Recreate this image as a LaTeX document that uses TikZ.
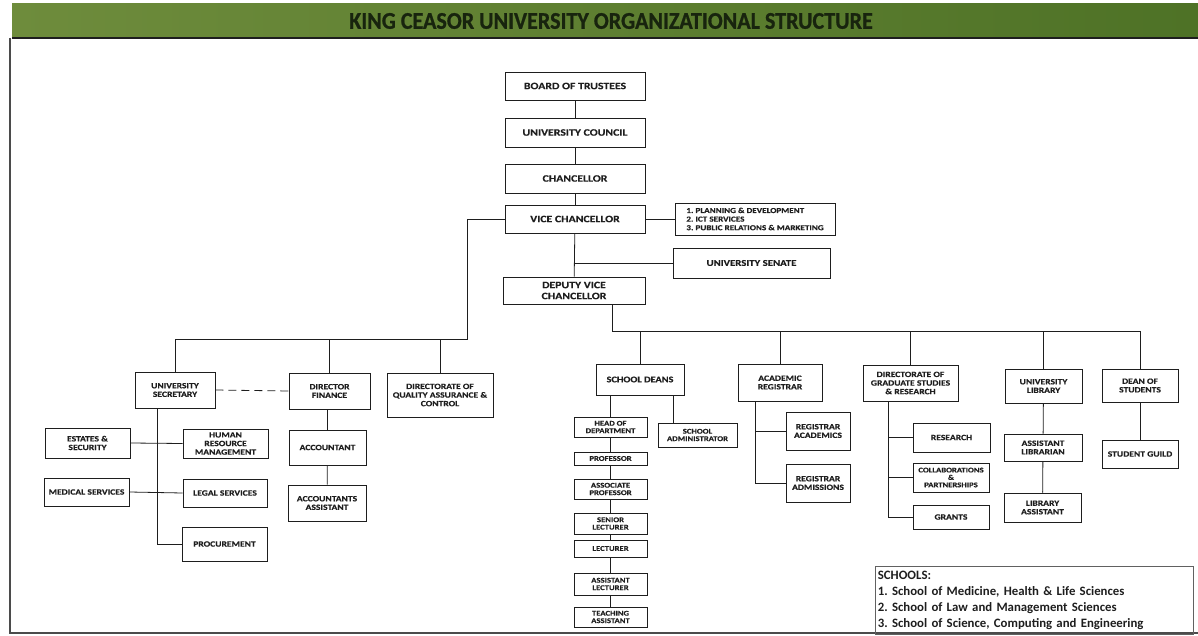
\documentclass[tikz,border=0pt]{standalone}
\usepackage{fontspec}
\setmainfont{Carlito}
\newfontfamily\bxf[FakeStretch=1.2, BoldFeatures={FakeBold=0.3}]{Carlito}
\newfontfamily\ttlf[FakeStretch=0.92, BoldFeatures={FakeBold=0.8}]{Carlito}
\newcommand\fsz[2]{\fontsize{#1}{#2}\selectfont}
\frenchspacing
\definecolor{barL}{HTML}{6E8C3C}
\definecolor{barR}{HTML}{4E7226}
\definecolor{ink}{HTML}{1E1E1E}
\definecolor{ttl}{HTML}{18240E}
\tikzset{
  box/.style={draw=ink, line width=0.9pt, inner sep=1pt, align=center, text=ink,
              font=\bxf\bfseries\fsz{8}{8.6}},
  big/.style={font=\bxf\bfseries\fsz{9.8}{11}},
  tiny/.style={font=\bxf\bfseries\fsz{7.2}{7.4}},
  sz/.style n args={2}{minimum width=#1pt, minimum height=#2pt},
  conn/.style={draw=ink, line width=0.8pt},
}
\begin{document}
\begin{tikzpicture}[x=1pt,y=-1pt]
\useasboundingbox (0,0) rectangle (1198,636);
% title bar
\shade[left color=barL, right color=barR] (12,4) rectangle (1198,38);
\draw[line width=1.2pt, ink] (12,38) -- (1198,38);
\node[text=ttl, font=\ttlf\bfseries\fsz{24}{25}] (title) at (611,21) {KING CEASOR UNIVERSITY ORGANIZATIONAL STRUCTURE};
% frame
\draw[line width=1.2pt, ink!80] (10,38) -- (10,633) -- (1198,633);

% top chain
\node[box, big, sz={140}{28}] (bot) at (575,86) {BOARD OF TRUSTEES};
\node[box, big, sz={140}{29}] (uc) at (575,132.5) {UNIVERSITY COUNCIL};
\node[box, big, sz={140}{29}] (chan) at (575,178.5) {CHANCELLOR};
\node[box, big, sz={140}{28}] (vc) at (575,219) {VICE CHANCELLOR};
\node[box, sz={160}{32}, align=left, font=\bxf\bfseries\fsz{7.6}{8.6}] (list) at (755,219) {1. PLANNING \& DEVELOPMENT\\2. ICT SERVICES\\3. PUBLIC RELATIONS \& MARKETING};
\node[box, big, sz={157}{30}, font=\bxf\bfseries\fsz{9}{10}] (senate) at (751.5,263) {UNIVERSITY SENATE};
\node[box, big, sz={142}{27}] (dvc) at (574,290.5) {DEPUTY VICE\\CHANCELLOR};

\draw[conn] (bot) -- (uc);
\draw[conn] (uc) -- (chan);
\draw[conn] (chan) -- (vc);
\draw[conn] (vc) -- (dvc);
\draw[conn] (vc.east) -- (list.west);
\coordinate (sen) at (575,263);
\draw[conn] (sen) -- (senate.west);

% left wing
\node[box, sz={80}{36}] (usec) at (175,390) {UNIVERSITY\\SECRETARY};
\node[box, sz={81}{36}] (dfin) at (329.5,391) {DIRECTOR\\FINANCE};
\node[box, sz={106}{44}] (qa) at (440,395) {DIRECTORATE OF\\QUALITY ASSURANCE \&\\CONTROL};
\node[box, sz={85}{30}] (est) at (87.5,443) {ESTATES \&\\SECURITY};
\node[box, sz={85}{29}] (hrm) at (225.5,443.5) {HUMAN\\RESOURCE\\MANAGEMENT};
\node[box, sz={85}{28}] (med) at (86.5,492) {MEDICAL SERVICES};
\node[box, sz={84}{28}] (legal) at (225,493) {LEGAL SERVICES};
\node[box, sz={85}{34}] (proc) at (224.5,544) {PROCUREMENT};
\node[box, sz={77}{35}] (acct) at (327.5,447.5) {ACCOUNTANT};
\node[box, sz={78}{36}] (accas) at (327,503) {ACCOUNTANTS\\ASSISTANT};

\coordinate (lbus) at (467,339);
\draw[conn] (vc.west) -| (lbus) -| (usec.north);
\draw[conn] (lbus) -| (dfin.north);
\draw[conn] (lbus) -| (qa.north);
\draw[conn, dashed, dash pattern=on 8pt off 5pt] (usec.east) -- (dfin.west);
\coordinate (usd) at (157,408);
\draw[conn] (usd) |- (proc.west);
\draw[conn] (est.east) -- (hrm.west);
\draw[conn] (med.east) -- (legal.west);
\draw[conn] (dfin.south -| acct.north) -- (acct.north);
\draw[conn] (acct) -- (accas);

% right wing
\node[box, sz={88}{31}, font=\bxf\bfseries\fsz{8.6}{9}] (sd) at (640,379.5) {SCHOOL DEANS};
\node[box, tiny, sz={73}{20}] (hod) at (610.5,427) {HEAD OF\\DEPARTMENT};
\node[box, tiny, sz={79}{24}] (sadm) at (697.5,435) {SCHOOL\\ADMINISTRATOR};
\node[box, tiny, sz={73}{13}] (prof) at (610.5,458.5) {PROFESSOR};
\node[box, tiny, sz={73}{20}] (aprof) at (610.5,489) {ASSOCIATE\\PROFESSOR};
\node[box, tiny, sz={73}{21}] (slect) at (610.5,523.5) {SENIOR\\LECTURER};
\node[box, tiny, sz={73}{17}] (lect) at (610.5,548.5) {LECTURER};
\node[box, tiny, sz={73}{22}] (alect) at (610.5,584) {ASSISTANT\\LECTURER};
\node[box, tiny, sz={73}{20}] (ta) at (610.5,617) {TEACHING\\ASSISTANT};

\node[box, sz={84}{37}] (areg) at (780,382.5) {ACADEMIC\\REGISTRAR};
\node[box, sz={64}{38}] (racad) at (818,431) {REGISTRAR\\ACADEMICS};
\node[box, sz={64}{38}] (radm) at (818,483) {REGISTRAR\\ADMISSIONS};

\node[box, sz={95}{36}] (dgsr) at (910.5,383) {DIRECTORATE OF\\GRADUATE STUDIES\\\& RESEARCH};
\node[box, sz={77}{29}] (res) at (951.5,437.5) {RESEARCH};
\node[box, tiny, sz={76}{29}] (coll) at (951,477.5) {COLLABORATIONS\\\&\\PARTNERSHIPS};
\node[box, sz={76}{24}] (grants) at (951,517) {GRANTS};

\node[box, sz={77}{34}] (ulib) at (1043.5,386) {UNIVERSITY\\LIBRARY};
\node[box, sz={78}{27}] (alib) at (1043,447.5) {ASSISTANT\\LIBRARIAN};
\node[box, sz={77}{29}] (libas) at (1042.5,507.5) {LIBRARY\\ASSISTANT};

\node[box, sz={76}{33}] (dos) at (1140,385.5) {DEAN OF\\STUDENTS};
\node[box, sz={76}{28}] (sg) at (1140,454) {STUDENT GUILD};

\coordinate (dvcd) at (612,304);
\coordinate (rbus) at (612,331);
\draw[conn] (dvcd) -- (rbus) -| (dos.north);
\draw[conn] (rbus) -| (sd.north);
\draw[conn] (rbus) -| (areg.north);
\draw[conn] (rbus) -| (dgsr.north);
\draw[conn] (rbus) -| (ulib.north);

\draw[conn] (sd.south -| hod.north) -- (hod.north);
\coordinate (sdr) at (673,395);
\draw[conn] (sdr) -- (sdr |- sadm.north);
\draw[conn] (hod) -- (prof);
\draw[conn] (prof) -- (aprof);
\draw[conn] (aprof) -- (slect);
\draw[conn] (slect) -- (lect);
\draw[conn] (lect) -- (alect);
\draw[conn] (alect) -- (ta);

\coordinate (aregd) at (755,401);
\draw[conn] (aregd) |- (radm.west);
\draw[conn] (aregd |- racad.west) -- (racad.west);

\coordinate (dgd) at (888,401);
\draw[conn] (dgd) |- (grants.west);
\draw[conn] (dgd |- res.west) -- (res.west);
\draw[conn] (dgd |- coll.west) -- (coll.west);

\draw[conn] (ulib) -- (alib);
\draw[conn] (alib) -- (libas);
\draw[conn] (dos) -- (sg);

% legend
\node[draw=ink!70, line width=0.8pt, anchor=north west, align=left, inner sep=2.5pt,
      text width=313pt, minimum height=68pt, text=ink, font=\bfseries\fsz{12.8}{16}]
  (legend) at (875,566) {SCHOOLS:\\1. School of Medicine, Health \& Life Sciences\\2. School of Law and Management Sciences\\3. School of Science, Computing and Engineering};
\end{tikzpicture}
\end{document}
